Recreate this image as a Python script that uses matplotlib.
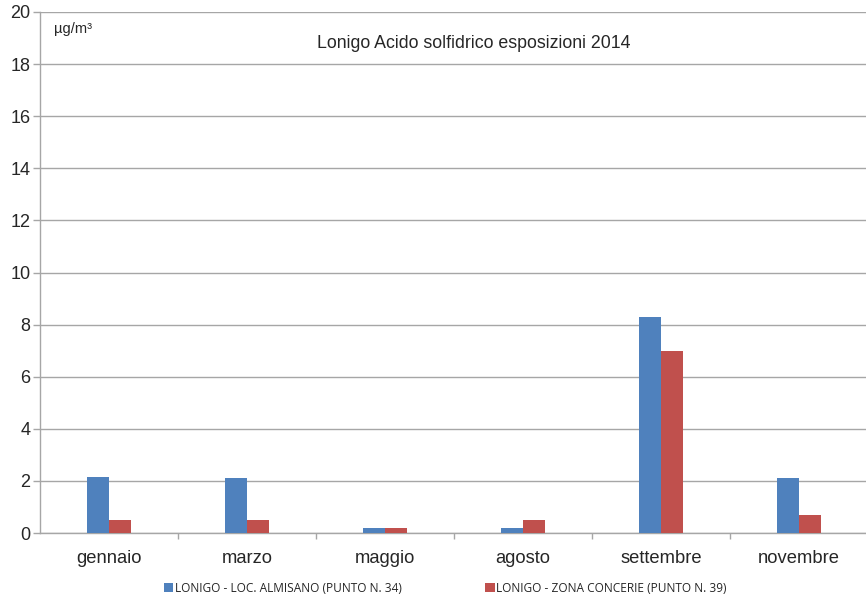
import matplotlib
matplotlib.use("Agg")
import matplotlib.pyplot as plt
import numpy as np

months = ["gennaio", "marzo", "maggio", "agosto", "settembre", "novembre"]
almisano = [2.15, 2.1, 0.2, 0.2, 8.3, 2.1]
concerie = [0.5, 0.5, 0.2, 0.5, 7.0, 0.7]
series_names = ["LONIGO - LOC. ALMISANO (PUNTO N. 34)",
                "LONIGO - ZONA CONCERIE (PUNTO N. 39)"]
yticks = list(range(0, 21, 2))

blue = "#4F81BD"
red = "#C0504D"
grid_col = "#A6A6A6"
text_col = "#262626"

plt.rcParams["font.family"] = ["Liberation Sans", "DejaVu Sans"]

fig = plt.figure(figsize=(8.66, 6.01), dpi=100)
ax = fig.add_axes([40 / 866, 1 - 533 / 601, 828 / 866, (533 - 12) / 601])

x = np.arange(len(months))
w = 0.16
ax.bar(x - w / 2, almisano, w, color=blue, label=series_names[0], zorder=3)
ax.bar(x + w / 2, concerie, w, color=red, label=series_names[1], zorder=3)

ax.set_xlim(-0.5, len(months) - 0.5)
ax.set_ylim(0, 20)
ax.set_yticks(yticks)
ax.set_yticklabels([str(v) for v in yticks], fontsize=13, color=text_col)
ax.yaxis.grid(True, color=grid_col, linewidth=1.0, zorder=0)
ax.tick_params(axis="y", length=5, width=1, color=grid_col, pad=2)

ax.set_xticks(x)
ax.set_xticklabels(months, fontsize=13.2, color=text_col)
ax.tick_params(axis="x", length=0, pad=12)
ax.set_xticks(np.arange(0.5, len(months) - 0.5, 1), minor=True)
ax.tick_params(axis="x", which="minor", length=4, width=1, color=grid_col,
               direction="out")

for side in ["top", "right"]:
    ax.spines[side].set_visible(False)
for side in ["left", "bottom"]:
    ax.spines[side].set_color(grid_col)
    ax.spines[side].set_linewidth(1.0)

fig.text(474 / 866, 1 - 43 / 601, "Lonigo Acido solfidrico esposizioni 2014",
         ha="center", va="center", fontsize=12.8, color=text_col)
fig.text(54 / 866, 1 - 29 / 601, "µg/m³", ha="left", va="center",
         fontsize=10.5, color=text_col)

leg = fig.legend(loc="center", bbox_to_anchor=(445 / 866, 1 - 588 / 601),
                 ncol=2, frameon=False, handlelength=0.8,
                 handleheight=0.8, handletextpad=0.1, columnspacing=7.0,
                 prop={"family": ["Open Sans", "DejaVu Sans"], "size": 8.6})
for t in leg.get_texts():
    t.set_color(text_col)

fig.savefig("out.png", dpi=100)
